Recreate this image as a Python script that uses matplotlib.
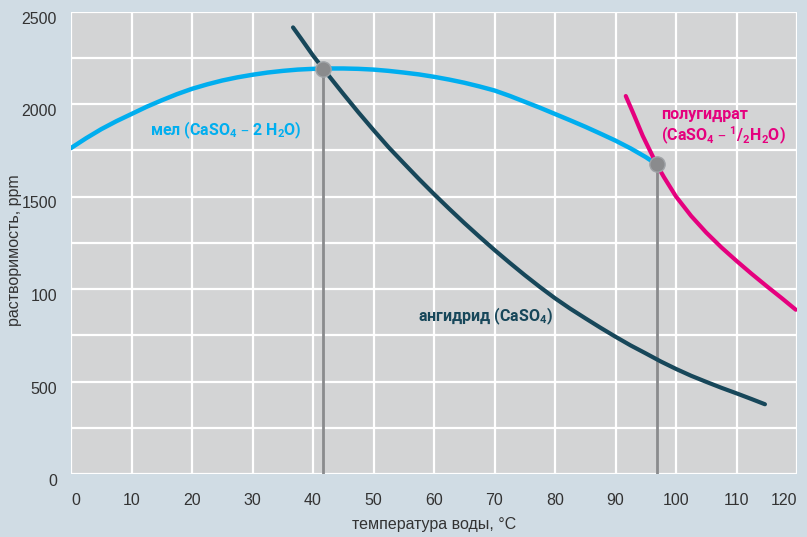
import matplotlib
matplotlib.use("Agg")
import matplotlib.pyplot as plt
from matplotlib import font_manager

# ---- data ----
gypsum_t = [0, 2.5, 5, 7.5, 10, 12.5, 15, 17.5, 20, 22.5, 25, 27.5, 30, 32.5, 35, 37.5, 40,
            42.5, 45, 47.5, 50, 52.5, 55, 57.5, 60, 62.5, 65, 67.5, 70, 72.5, 75, 77.5, 80,
            82.5, 85, 87.5, 90, 92.5, 95, 96.8]
gypsum_s = [1762, 1815, 1864, 1907, 1946, 1985, 2020, 2053, 2082, 2106, 2127, 2144, 2158, 2170, 2179, 2186, 2190,
            2192, 2192, 2190, 2186, 2179, 2170, 2160, 2147, 2132, 2115, 2095, 2073, 2044, 2012, 1980, 1946,
            1912, 1877, 1840, 1802, 1760, 1713, 1674]

anhydrite_t = [36.7, 38, 40, 41.7, 45, 47.5, 50, 52.5, 55, 57.5, 60, 62.5, 65, 67.5, 70, 72.5, 75,
               77.5, 80, 82.5, 85, 87.5, 90, 92.5, 95, 97.5, 100, 102.5, 105, 107.5, 110, 112.5, 114.7]
anhydrite_s = [2414, 2355, 2262, 2190, 2055, 1955, 1859, 1766, 1680, 1595, 1513, 1434, 1357, 1283, 1211, 1142, 1075,
               1011, 950, 894, 842, 791, 742, 695, 652, 608, 568, 531, 498, 466, 436, 405, 377]

hemihydrate_t = [91.7, 93, 94.5, 96.8, 98, 100, 102.5, 105, 107.5, 110, 112.5, 115, 117.5, 119.8]
hemihydrate_s = [2043, 1945, 1828, 1674, 1605, 1500, 1395, 1305, 1225, 1152, 1082, 1015, 950, 888]

transition_t = [41.7, 96.8]
transition_s = [2190, 1674]

x_ticks = [0, 10, 20, 30, 40, 50, 60, 70, 80, 90, 100, 110, 120]
y_ticks = [0, 500, 1000, 1500, 2000, 2500]
y_tick_labels = ["0", "500", "100", "1500", "2000", "2500"]

x_label = "температура воды, °C"
y_label = "растворимость, ppm"

# ---- fonts ----
avail = {f.name for f in font_manager.fontManager.ttflist}
tick_fams = [f for f in ["Liberation Sans Narrow", "Liberation Sans", "DejaVu Sans"] if f in avail]
ann_fams = [f for f in ["Roboto", "DejaVu Sans"] if f in avail]
plt.rcParams['font.family'] = tick_fams

BLUE = "#00aeef"
DARK = "#17475a"
PINK = "#e5007e"
FIG_BG = "#d0dce4"
AX_BG = "#d3d4d5"
GRAY = "#8a8b8d"
TXT = "#333333"

fig = plt.figure(figsize=(8.07, 5.37), dpi=100, facecolor=FIG_BG)
ax = fig.add_axes([71/807, 1 - 474/537, (797-71)/807, (474-11.5)/537])
ax.set_facecolor(AX_BG)
ax.set_xlim(0, 120)
ax.set_ylim(0, 2500)

# grid
for v in range(0, 121, 10):
    ax.axvline(v, color="white", lw=1.6, zorder=1)
for v in range(0, 2501, 250):
    ax.axhline(v, color="white", lw=1.6, zorder=1)
for s in ax.spines.values():
    s.set_visible(False)

# vertical transition lines
for t, s in zip(transition_t, transition_s):
    ax.plot([t, t], [0, s], color=GRAY, lw=2, zorder=2, solid_capstyle="butt")

ax.plot(gypsum_t, gypsum_s, color=BLUE, lw=3.2, zorder=3, solid_capstyle="round", solid_joinstyle="round")
ax.plot(anhydrite_t, anhydrite_s, color=DARK, lw=3.0, zorder=3, solid_capstyle="round", solid_joinstyle="round")
ax.plot(hemihydrate_t, hemihydrate_s, color=PINK, lw=3.0, zorder=3, solid_capstyle="round", solid_joinstyle="round")

ax.plot(transition_t, transition_s, linestyle="none", marker="o", markersize=11,
        markerfacecolor=GRAY, markeredgecolor="#a0a4a8", markeredgewidth=1, zorder=5)

# ticks
ax.set_xticks(x_ticks)
ax.set_xticklabels([str(v) for v in x_ticks], fontsize=11.5, color=TXT)
ax.get_xticklabels()[-1].set_horizontalalignment("right")
ax.get_xticklabels()[0].set_horizontalalignment("left")
ax.set_yticks(y_ticks)
ax.set_yticklabels(y_tick_labels, fontsize=11.5, color=TXT, va="top")
ax.tick_params(axis="both", length=0)
ax.tick_params(axis="x", pad=14)
ax.tick_params(axis="y", pad=10)

fig.text(434/807, 1 - 524/537, x_label, fontsize=11.5, color=TXT, ha="center", va="center")
fig.text(15/807, 1 - 250/537, y_label, fontsize=11.5, color=TXT, ha="center", va="center", rotation=90)

# annotations
kw = dict(fontsize=11.5, fontweight="bold", va="center", ha="left", zorder=6, family=ann_fams)
ax.text(13.1, 1860, r"мел (CaSO$\mathregular{_4}$ – 2 H$\mathregular{_2}$O)", color=BLUE, **kw)
ax.text(57.4, 854, r"ангидрид (CaSO$\mathregular{_4}$)", color=DARK, **kw)
ax.text(97.6, 1945, "полугидрат", color=PINK, **kw)
ax.text(97.6, 1830, r"(CaSO$\mathregular{_4}$ – $\mathregular{^1/_2}$H$\mathregular{_2}$O)", color=PINK, **kw)

fig.savefig("out.png", dpi=100, facecolor=FIG_BG)
